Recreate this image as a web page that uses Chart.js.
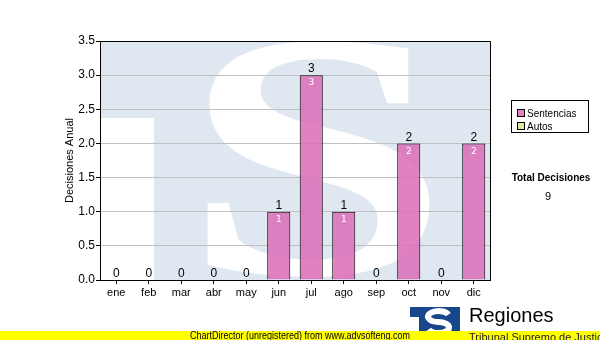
<!DOCTYPE html>
<html>
<head>
<meta charset="utf-8">
<script src="https://cdn.jsdelivr.net/npm/chart.js@4/dist/chart.umd.min.js"></script>
<style>
  html, body { margin: 0; padding: 0; background: #fff; }
  canvas { display: block; }
</style>
</head>
<body>
<canvas id="chart" width="600" height="340"></canvas>
<script>
// datos del gráfico
const meses = ['ene', 'feb', 'mar', 'abr', 'may', 'jun', 'jul', 'ago', 'sep', 'oct', 'nov', 'dic'];
const sentencias = [0, 0, 0, 0, 0, 1, 3, 1, 0, 2, 0, 2];
const autos = [0, 0, 0, 0, 0, 0, 0, 0, 0, 0, 0, 0];
const yTicks = [0, 0.5, 1, 1.5, 2, 2.5, 3, 3.5];

const colorSentencias = 'rgba(220, 112, 184, 0.88)';
const colorAutos = '#d9eaa3';

// dibuja una "S" grande ajustada a una caja
function drawFittedS(ctx, x0, y0, x1, y1, color) {
  ctx.save();
  ctx.font = 'bold 200px "Liberation Serif"';
  const m = ctx.measureText('S');
  const w = m.actualBoundingBoxLeft + m.actualBoundingBoxRight;
  const h = m.actualBoundingBoxAscent + m.actualBoundingBoxDescent;
  ctx.translate(x0, y0);
  ctx.scale((x1 - x0) / w, (y1 - y0) / h);
  ctx.fillStyle = color;
  ctx.textBaseline = 'alphabetic';
  ctx.textAlign = 'left';
  ctx.fillText('S', m.actualBoundingBoxLeft, m.actualBoundingBoxAscent);
  ctx.restore();
}

// marca de agua detrás del área del gráfico
const fondoPlugin = {
  id: 'fondo',
  beforeDraw(chart) {
    const ctx = chart.ctx;
    const a = chart.chartArea;
    ctx.save();
    ctx.fillStyle = '#dfe8f1';
    ctx.fillRect(a.left, a.top, a.right - a.left, a.bottom - a.top);
    ctx.fillStyle = '#ffffff';
    ctx.fillRect(a.left, a.top + 77, 54, a.bottom - a.top - 77);
    ctx.restore();
    drawFittedS(ctx, a.left + 106, a.top + 1, a.left + 330, a.bottom - 3, '#ffffff');
  }
};

// etiquetas de valores, borde, leyenda y pie
const extrasPlugin = {
  id: 'extras',
  afterDatasetsDraw(chart) {
    const ctx = chart.ctx;
    const a = chart.chartArea;
    ctx.save();
    ctx.strokeStyle = '#000';
    ctx.lineWidth = 1;
    ctx.beginPath();
    ctx.moveTo(a.left, a.top + 0.5);
    ctx.lineTo(a.right + 0.5, a.top + 0.5);
    ctx.lineTo(a.right + 0.5, a.bottom);
    ctx.stroke();

    const metaS = chart.getDatasetMeta(0);
    const metaA = chart.getDatasetMeta(1);
    ctx.textAlign = 'center';
    meses.forEach((m, i) => {
      const total = sentencias[i] + autos[i];
      const barS = metaS.data[i];
      const barA = metaA.data[i];
      const top = Math.min(barS.y, barA.y);
      ctx.fillStyle = '#000';
      ctx.font = '12px "Liberation Sans"';
      ctx.textBaseline = 'bottom';
      ctx.fillText(String(total), barS.x, top);
      if (sentencias[i] > 0) {
        ctx.fillStyle = '#ffffff';
        ctx.font = '9px "DejaVu Sans"';
        ctx.textBaseline = 'middle';
        ctx.fillText(String(sentencias[i]), barS.x, barS.y + 8);
      }
    });

    // leyenda
    ctx.fillStyle = '#fff';
    ctx.fillRect(511.5, 100.5, 77, 32);
    ctx.strokeStyle = '#000';
    ctx.strokeRect(511.5, 100.5, 77, 32);
    const items = chart.data.datasets;
    items.forEach((ds, k) => {
      const y = 113 + k * 13;
      ctx.fillStyle = ds.backgroundColor;
      ctx.fillRect(517, y - 4, 8, 8);
      ctx.strokeStyle = '#000';
      ctx.strokeRect(517.5, y - 3.5, 7, 7);
      ctx.fillStyle = '#000';
      ctx.font = '10px "Liberation Sans"';
      ctx.textAlign = 'left';
      ctx.textBaseline = 'middle';
      ctx.fillText(ds.label, 527, y + 1);
    });

    // total
    const totalDecisiones = sentencias.reduce((s, v) => s + v, 0) + autos.reduce((s, v) => s + v, 0);
    ctx.textAlign = 'center';
    ctx.textBaseline = 'middle';
    ctx.fillStyle = '#000';
    ctx.font = 'bold 10px "Liberation Sans"';
    ctx.fillText('Total Decisiones', 551, 178);
    ctx.font = '11px "Liberation Sans"';
    ctx.fillText(String(totalDecisiones), 548, 197);

    // logo inferior
    ctx.fillStyle = '#17468a';
    ctx.fillRect(410, 307, 50, 25);
    ctx.strokeStyle = '#ffffff';
    ctx.lineWidth = 6;
    ctx.lineCap = 'butt';
    ctx.beginPath();
    ctx.ellipse(438.5, 316.5, 10.5, 5.5, 0, -0.35, -Math.PI * 1.5, true);
    ctx.ellipse(438.5, 327.5, 10.5, 5.5, 0, -Math.PI / 2, Math.PI - 0.35, false);
    ctx.stroke();
    ctx.fillStyle = '#ffffff';
    ctx.fillRect(410, 317, 9, 15);
    ctx.fillStyle = '#000';
    ctx.font = '20px "Liberation Sans"';
    ctx.textAlign = 'left';
    ctx.textBaseline = 'alphabetic';
    ctx.fillText('Regiones', 469, 322);

    // franja amarilla
    ctx.fillStyle = '#ffff00';
    ctx.fillRect(0, 331, 600, 9);
    ctx.fillStyle = '#000';
    ctx.font = '10px "Liberation Sans"';
    ctx.textAlign = 'center';
    ctx.textBaseline = 'middle';
    ctx.fillText('ChartDirector (unregistered) from www.advsofteng.com', 300, 336, 220);
    ctx.textAlign = 'left';
    ctx.textBaseline = 'top';
    ctx.fillStyle = '#222';
    ctx.font = '11px "Liberation Sans"';
    ctx.fillText('Tribunal Supremo de Justicia', 469, 332);
    ctx.restore();
  }
};

new Chart(document.getElementById('chart'), {
  type: 'bar',
  data: {
    labels: meses,
    datasets: [
      {
        label: 'Sentencias',
        data: sentencias,
        backgroundColor: colorSentencias,
        borderColor: '#000',
        borderWidth: 1,
        borderSkipped: 'bottom'
      },
      {
        label: 'Autos',
        data: autos,
        backgroundColor: colorAutos,
        borderColor: '#000',
        borderWidth: 0
      }
    ]
  },
  options: {
    responsive: false,
    devicePixelRatio: 1,
    animation: false,
    categoryPercentage: 1,
    barPercentage: 0.71,
    layout: { padding: { top: 41, right: 110, left: 59, bottom: 0 } },
    plugins: {
      legend: { display: false },
      tooltip: { enabled: false }
    },
    scales: {
      x: {
        stacked: true,
        grid: { drawOnChartArea: false, offset: false, tickColor: '#000', tickLength: 4 },
        border: { color: '#000' },
        ticks: { color: '#000', font: { family: 'Liberation Sans', size: 11 }, padding: 2 },
        afterFit(scale) { scale.height = 60; }
      },
      y: {
        stacked: true,
        min: 0,
        max: 3.5,
        afterBuildTicks(scale) { scale.ticks = yTicks.map(v => ({ value: v })); },
        grid: { color: '#c0c0c0', tickColor: '#000', tickLength: 4 },
        border: { color: '#000' },
        ticks: {
          color: '#000',
          font: { family: 'Liberation Sans', size: 12 },
          padding: 1,
          callback: v => Number(v).toFixed(1)
        },
        title: {
          display: true,
          text: 'Decisiones Anual',
          color: '#000',
          font: { family: 'Liberation Sans', size: 11 }
        },
        afterFit(scale) { scale.width = 41; }
      }
    }
  },
  plugins: [fondoPlugin, extrasPlugin]
});
</script>
</body>
</html>
